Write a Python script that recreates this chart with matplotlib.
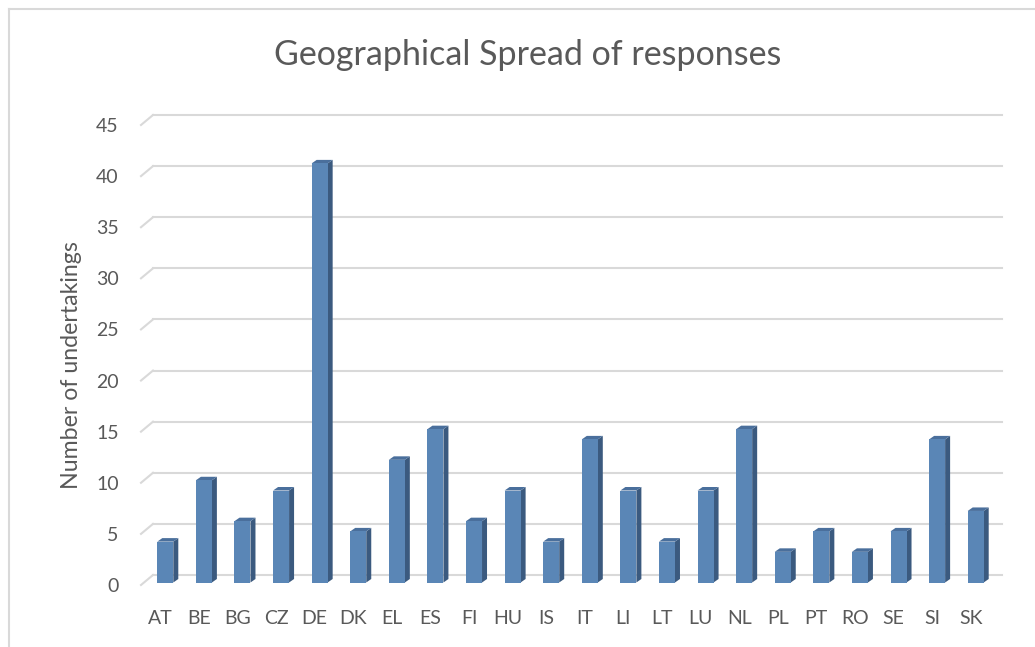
import matplotlib
matplotlib.use("Agg")
import matplotlib.pyplot as plt
from matplotlib.patches import Polygon, Rectangle
from matplotlib.lines import Line2D

# data
countries = ['AT', 'BE', 'BG', 'CZ', 'DE', 'DK', 'EL', 'ES', 'FI', 'HU', 'IS',
             'IT', 'LI', 'LT', 'LU', 'NL', 'PL', 'PT', 'RO', 'SE', 'SI', 'SK']
responses = [4, 10, 6, 9, 41, 5, 12, 15, 6, 9, 4,
             14, 9, 4, 9, 15, 3, 5, 3, 5, 14, 7]
y_ticks = [0, 5, 10, 15, 20, 25, 30, 35, 40, 45]

plt.rcParams['font.family'] = ['Lato', 'DejaVu Sans']
txt = '#595959'
grid_c = '#D9D9D9'
front_c = '#5A86B6'
side_c = '#3B5A7F'
top_c = '#4A6F9C'

W, H = 1035, 647
fig = plt.figure(figsize=(W / 100, H / 100), dpi=100)

# front plane of the pseudo 3d box, in pixels
left_px, right_px = 141, 990
bot_px, top_px = 585, 125
ax = fig.add_axes([left_px / W, 1 - bot_px / H,
                   (right_px - left_px) / W, (bot_px - top_px) / H])
xmin, xmax = -0.5, len(countries) - 0.5
ymin, ymax = 0, 45
ax.set_xlim(xmin, xmax)
ax.set_ylim(ymin, ymax)

# pixel -> data unit helpers
ux = (right_px - left_px) / (xmax - xmin)
uy = (bot_px - top_px) / (ymax - ymin)

def px(dx, dy):
    return dx / ux, dy / uy

# back wall gridlines + floor diagonals
gx, gy = px(12, 10)
for v in y_ticks:
    ax.add_line(Line2D([xmin + gx, xmax + gx], [v + gy, v + gy],
                       color=grid_c, lw=1.5, clip_on=False, zorder=1))
    ax.add_line(Line2D([xmin, xmin + gx], [v, v + gy],
                       color=grid_c, lw=1.5, clip_on=False, zorder=1))

# bars: front face, side face, top face
bw = 16 / ux
ox, oy = px(5, 2.5)
dx, dy = px(5, 3.5)
for i, v in enumerate(responses):
    x0 = i - bw / 2 + ox
    x1 = i + bw / 2 + ox
    y0 = oy
    y1 = v + oy
    ax.add_patch(Polygon([[x1, y0], [x1 + dx, y0 + dy], [x1 + dx, y1 + dy], [x1, y1]],
                         closed=True, fc=side_c, ec='none', zorder=3, clip_on=False))
    ax.add_patch(Polygon([[x0, y1], [x1, y1], [x1 + dx, y1 + dy], [x0 + dx, y1 + dy]],
                         closed=True, fc=top_c, ec='none', zorder=3, clip_on=False))
    ax.add_patch(Rectangle((x0, y0), bw, v, fc=front_c, ec='none', zorder=4,
                           clip_on=False))

for s in ax.spines.values():
    s.set_visible(False)
ax.set_facecolor('none')
ax.set_xticks(range(len(countries)))
ax.set_xticklabels(countries)
ax.set_yticks(y_ticks)
ax.tick_params(axis='both', length=0, colors=txt, labelsize=14)
ax.tick_params(axis='y', pad=16)
ax.tick_params(axis='x', pad=18)
ax.set_ylabel('Number of undertakings', color=txt, fontsize=16.7)
ax.yaxis.set_label_coords((82 - left_px) / (right_px - left_px),
                          (bot_px - 365) / (bot_px - top_px))

fig.text(528 / W, 1 - 55 / H, 'Geographical Spread of responses', color=txt,
         fontsize=24.5, ha='center', va='center')

# chart border (left and top visible)
fig.add_artist(Line2D([9 / W, 9 / W], [0, 1 - 9 / H], color=grid_c, lw=1.5))
fig.add_artist(Line2D([9 / W, 1], [1 - 9 / H, 1 - 9 / H], color=grid_c, lw=1.5))

fig.savefig('out.png', dpi=100, facecolor='white')
